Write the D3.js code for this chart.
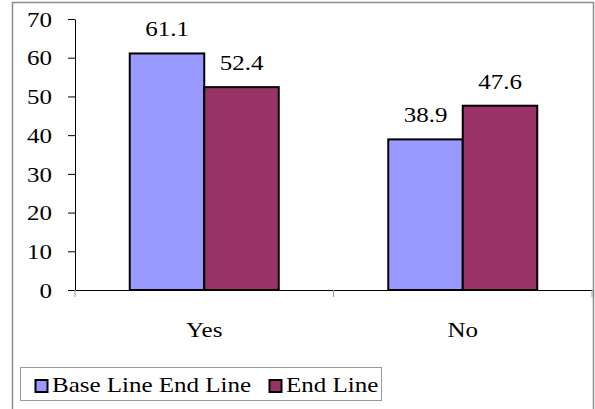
<!DOCTYPE html>
<html><head><meta charset="utf-8">
<script src="https://cdn.jsdelivr.net/npm/d3@7"></script>
<style>body{margin:0;background:#fff}svg{display:block}</style>
</head><body>
<script>
const categories = ["Yes", "No"];
const seriesNames = ["Base Line End Line", "End Line"];
const baseLine = [61.1, 38.9];
const endLine = [52.4, 47.6];
const yTicks = [0, 10, 20, 30, 40, 50, 60, 70];
const colors = ["#9999ff", "#993366"];

(function () {
const W = 595, H = 409;
const FONT = "'Liberation Serif', 'Times New Roman', Times, serif";
const FS = 21, SX = 1.19;
const svg = d3.select("body").append("svg").attr("width", W).attr("height", H)
  .style("font-family", FONT);

function place(sel, x, y) {
  sel.attr("x", 0).attr("y", 0)
    .attr("transform", `translate(${x},${y}) scale(${SX},1)`)
    .attr("font-family", FONT).attr("font-size", FS).attr("fill", "#000");
}

svg.append("path").attr("d", "M12.5,409 V2.5 H593.5 V409")
  .attr("fill", "none").attr("stroke", "#8c8c8c").attr("stroke-width", 1.5);

const pL = 75, pR = 592, pT = 19, pB = 290;
const y = d3.scaleLinear().domain([0, 70]).range([pB, pT]);
const x0 = d3.scaleBand().domain(categories).range([pL, pR]).paddingInner(0).paddingOuter(0);
const groupW = 149;
const x1 = d3.scaleBand().domain([0, 1]).range([0, groupW]);

const yAxis = d3.axisLeft(y).tickValues(yTicks).tickSize(7).tickPadding(16).tickSizeOuter(0);
const gy = svg.append("g").attr("transform", `translate(${pL},0)`).call(yAxis)
  .attr("font-family", null).attr("font-size", null);
gy.selectAll(".tick text").each(function () {
  place(d3.select(this).attr("dy", "0.34em"), -23, 0);
});
gy.selectAll("line, path").attr("stroke", "#000");

const series = [baseLine, endLine];
categories.forEach((c, i) => {
  const gx = x0(c) + (x0.bandwidth() - groupW) / 2;
  series.forEach((s, j) => {
    const v = s[i];
    svg.append("rect")
      .attr("x", gx + x1(j)).attr("y", y(v))
      .attr("width", x1.bandwidth()).attr("height", y(0) - y(v))
      .attr("fill", colors[j]).attr("stroke", "#000").attr("stroke-width", 2);
    svg.append("text").attr("text-anchor", "middle").text(v.toFixed(1))
      .call(place, gx + x1(j) + x1.bandwidth() / 2, y(v) - 17);
  });
});

const xAxis = d3.axisBottom(x0).tickSize(0).tickPadding(0);
const gxA = svg.append("g").attr("transform", `translate(0,${pB})`).call(xAxis)
  .attr("font-family", null).attr("font-size", null);
gxA.select(".domain").attr("stroke", "#000");
gxA.selectAll(".tick text").each(function () {
  place(d3.select(this).attr("dy", 0), 0, 47);
});
const tickPos = [pL, pL + x0.bandwidth(), pR];
svg.selectAll(".xtick").data(tickPos).enter().append("line")
  .attr("x1", d => d).attr("x2", d => d).attr("y1", pB).attr("y2", pB + 7)
  .attr("stroke", "#999");

const lg = svg.append("g");
lg.append("rect").attr("x", 20.5).attr("y", 367.5).attr("width", 361).attr("height", 33)
  .attr("fill", "#fff").attr("stroke", "#999");
const legX = [35, 269];
seriesNames.forEach((n, j) => {
  lg.append("rect").attr("x", legX[j] + 0.5).attr("y", 380).attr("width", 12).attr("height", 12)
    .attr("fill", colors[j]).attr("stroke", "#000").attr("stroke-width", 2);
  lg.append("text").text(n).call(place, legX[j] + 17, 392);
});
})();
</script>
</body></html>
